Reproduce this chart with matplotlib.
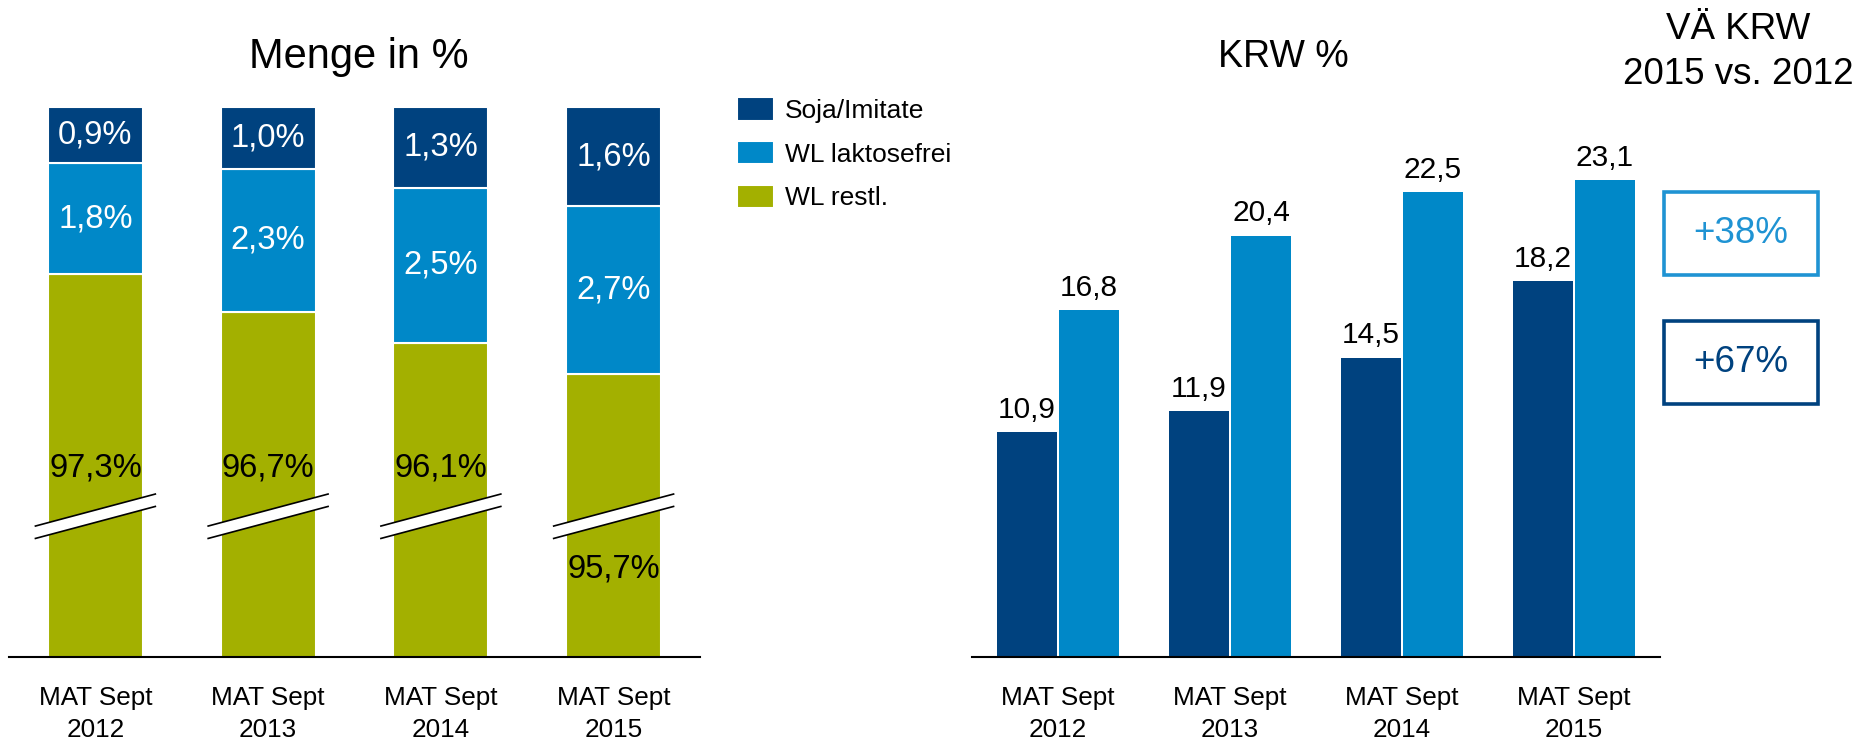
import numpy as np
import matplotlib
matplotlib.use('Agg')
import matplotlib.pyplot as plt
from matplotlib.patches import Polygon, Rectangle

plt.rcParams['font.family'] = ['Liberation Sans', 'DejaVu Sans']

# data
periods = ['MAT Sept\n2012', 'MAT Sept\n2013', 'MAT Sept\n2014', 'MAT Sept\n2015']
series_names = ['Soja/Imitate', 'WL laktosefrei', 'WL restl.']
menge_soja = [0.9, 1.0, 1.3, 1.6]
menge_laktosefrei = [1.8, 2.3, 2.5, 2.7]
menge_restl = [97.3, 96.7, 96.1, 95.7]
krw_soja = [10.9, 11.9, 14.5, 18.2]
krw_laktosefrei = [16.8, 20.4, 22.5, 23.1]

DARK = '#00427f'
LIGHT = '#0088c8'
GREEN = '#a3b000'
BOX_LIGHT = '#1f93d3'


def fmt(v, suffix=''):
    return f'{v:.1f}'.replace('.', ',') + suffix


W, H = 1860, 743
fig = plt.figure(figsize=(W / 100, H / 100), dpi=100)


def px_axes(x0, x1, y0, y1):
    # axes box from pixel edges (y measured from top)
    return fig.add_axes([x0 / W, 1 - y1 / H, (x1 - x0) / W, (y1 - y0) / H])


def style_axes(ax):
    for s in ['left', 'top', 'right']:
        ax.spines[s].set_visible(False)
    ax.spines['bottom'].set_linewidth(1.5)
    ax.set_yticks([])
    ax.set_xticks(np.arange(len(periods)))
    ax.set_xticklabels(periods, fontsize=18.8, linespacing=1.4)
    ax.tick_params(axis='x', length=0, pad=21)
    ax.set_xlim(-0.5, 3.5)


# ---------- left: Menge in % (100% stacked, broken axis) ----------
ax1 = px_axes(9, 700, 107, 657)
x = np.arange(len(periods))
soja = np.array(menge_soja)
lakto = np.array(menge_laktosefrei)
restl = np.array(menge_restl)
total = soja + lakto + restl
soja_n, lakto_n, restl_n = soja / total * 100, lakto / total * 100, restl / total * 100

bw = 0.55
b3 = ax1.bar(x, restl_n, width=bw, color=GREEN, edgecolor='white', linewidth=1.5)
b2 = ax1.bar(x, lakto_n, bottom=restl_n, width=bw, color=LIGHT, edgecolor='white', linewidth=1.5)
b1 = ax1.bar(x, soja_n, bottom=restl_n + lakto_n, width=bw, color=DARK, edgecolor='white', linewidth=1.5)
ax1.set_ylim(91.13, 100)
style_axes(ax1)

for i in range(len(x)):
    ax1.text(x[i], restl_n[i] + lakto_n[i] + soja_n[i] / 2, fmt(menge_soja[i], '%'),
             ha='center', va='center', color='white', fontsize=23.6)
    ax1.text(x[i], restl_n[i] + lakto_n[i] / 2, fmt(menge_laktosefrei[i], '%'),
             ha='center', va='center', color='white', fontsize=23.6)

# axis break marks
BREAK_Y = 93.4
half_w, rise, gap = 0.347, 0.258, 0.2
label_below = [False, False, False, True]
for i in range(len(x)):
    c = x[i]
    top_l, top_r = BREAK_Y + gap / 2 - rise, BREAK_Y + gap / 2 + rise
    poly = Polygon([(c - half_w, top_l), (c + half_w, top_r),
                    (c + half_w, top_r - gap), (c - half_w, top_l - gap)],
                   closed=True, facecolor='white', edgecolor='none', zorder=3, clip_on=False)
    ax1.add_patch(poly)
    ax1.plot([c - half_w, c + half_w], [top_l, top_r], color='black', lw=1.2, zorder=4, clip_on=False)
    ax1.plot([c - half_w, c + half_w], [top_l - gap, top_r - gap], color='black', lw=1.2, zorder=4,
             clip_on=False)
    ly = BREAK_Y - 0.85 if label_below[i] else BREAK_Y + 0.78
    ax1.text(c, ly, fmt(menge_restl[i], '%'), ha='center', va='center', color='black', fontsize=23.6)

fig.text(359 / W, 1 - 57 / H, 'Menge in %', ha='center', va='center', fontsize=30)

fig.legend([b1, b2, b3], series_names, loc='upper left', bbox_to_anchor=(737 / W, 1 - 97 / H),
           frameon=False, fontsize=19, handlelength=1.4, handleheight=1.0,
           handletextpad=0.42, labelspacing=0.68, borderpad=0, borderaxespad=0)

# ---------- right: KRW % ----------
ax2 = px_axes(972, 1660, 107, 657)
off, bw2 = 0.1802, 0.3488
ax2.bar(x - off, krw_soja, width=bw2, color=DARK)
ax2.bar(x + off, krw_laktosefrei, width=bw2, color=LIGHT)
ax2.set_ylim(0, 550 / 20.65)
style_axes(ax2)
for i in range(len(x)):
    ax2.annotate(fmt(krw_soja[i]), (x[i] - off, krw_soja[i]), xytext=(0, 6), textcoords='offset points',
                 ha='center', va='bottom', fontsize=21.5)
    ax2.annotate(fmt(krw_laktosefrei[i]), (x[i] + off, krw_laktosefrei[i]), xytext=(0, 6),
                 textcoords='offset points', ha='center', va='bottom', fontsize=21.5)

fig.text(1283 / W, 1 - 57 / H, 'KRW %', ha='center', va='center', fontsize=27)
fig.text(1738 / W, 1 - 52 / H, 'VÄ KRW\n2015 vs. 2012', ha='center', va='center', fontsize=26.5,
         linespacing=1.37)

# change boxes 2015 vs. 2012
chg_lakto = krw_laktosefrei[-1] / krw_laktosefrei[0] - 1
chg_soja = krw_soja[-1] / krw_soja[0] - 1
for (y0, y1), val, col in [((192, 275), chg_lakto, BOX_LIGHT), ((321, 404), chg_soja, DARK)]:
    rect = Rectangle((1664 / W, 1 - y1 / H), (1818 - 1664) / W, (y1 - y0) / H,
                     transform=fig.transFigure, facecolor='white', edgecolor=col, linewidth=2.6)
    fig.add_artist(rect)
    fig.text(1741 / W, 1 - (y0 + y1) / 2 / H, f'+{val * 100:.0f}%', ha='center', va='center',
             fontsize=26.5, color=col)

fig.savefig('out.png', dpi=100)
